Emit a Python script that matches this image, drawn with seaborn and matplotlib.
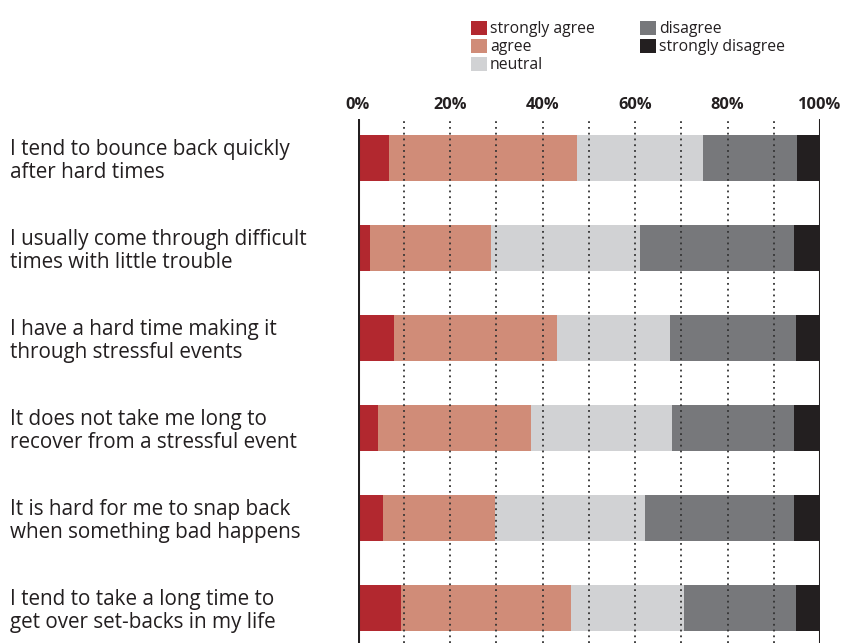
import matplotlib
matplotlib.use("Agg")
import matplotlib.pyplot as plt
from matplotlib.patches import Patch
import seaborn as sns
import pandas as pd
import numpy as np

questions = [
    "I tend to bounce back quickly\nafter hard times",
    "I usually come through difficult\ntimes with little trouble",
    "I have a hard time making it\nthrough stressful events",
    "It does not take me long to\nrecover from a stressful event",
    "It is hard for me to snap back\nwhen something bad happens",
    "I tend to take a long time to\nget over set-backs in my life",
]
categories = ["strongly agree", "agree", "neutral", "disagree", "strongly disagree"]
strongly_agree = [6.8, 2.7, 7.9, 4.4, 5.5, 9.4]
agree = [40.7, 26.2, 35.3, 33.2, 24.3, 36.8]
neutral = [27.2, 32.2, 24.4, 30.5, 32.4, 24.3]
disagree = [20.4, 33.2, 27.3, 26.2, 32.1, 24.4]
strongly_disagree = [4.9, 5.7, 5.1, 5.7, 5.7, 5.1]
colors = ["#b2282f", "#d08c78", "#d1d2d4", "#77787b", "#231f20"]
tick_values = [0, 20, 40, 60, 80, 100]
tick_labels = ["0%", "20%", "40%", "60%", "80%", "100%"]

sns.set_theme(style="white")
plt.rcParams["font.family"] = ["Open Sans", "DejaVu Sans"]
text_color = "#231f20"

df = pd.DataFrame({
    "question": questions,
    "strongly agree": strongly_agree,
    "agree": agree,
    "neutral": neutral,
    "disagree": disagree,
    "strongly disagree": strongly_disagree,
})
cum = df[categories].cumsum(axis=1)

fig = plt.figure(figsize=(8.41, 6.43), dpi=100)
ax = fig.add_axes([357.5 / 841, 0.0, (820 - 357.5) / 841, 1 - 119 / 643])

# draw cumulative bars from the largest to the smallest so segments stack
for cat, col in reversed(list(zip(categories, colors))):
    sns.barplot(x=cum[cat], y=df["question"], color=col, orient="h",
                width=0.51, ax=ax, saturation=1, linewidth=0, zorder=2)

ax.set_xlim(0, 100)
ax.set_ylim(5.389, -0.433)
for v in range(10, 100, 10):
    ax.axvline(v, color="#333333", lw=1.3, ls=(0, (1.0, 2.2)), zorder=3)
for v in (0, 100):
    ax.axvline(v, color=text_color, lw=2.2, zorder=4)

for s in ax.spines.values():
    s.set_visible(False)

ax.xaxis.tick_top()
ax.set_xticks(tick_values)
ax.set_xticklabels(tick_labels, fontsize=11.8, fontweight="bold", color=text_color)
ax.tick_params(axis="x", length=0, pad=4)
ax.set_xlabel("")
ax.set_ylabel("")

ax.set_yticks(range(len(questions)))
ax.set_yticklabels(questions, fontsize=14.9, color=text_color, ha="left",
                   linespacing=1.1)
ax.tick_params(axis="y", length=0, pad=(357.5 - 10) * 0.72)

handles = [Patch(facecolor=c, edgecolor="none", label=l) for c, l in zip(colors, categories)]
fig.legend(handles=handles, loc="upper left",
           bbox_to_anchor=(471 / 841, 1 - 20.5 / 643), ncol=2, frameon=False,
           fontsize=11.3, handlelength=1.0, handleheight=1.0, handletextpad=0.2,
           labelspacing=0.12, columnspacing=2.9, borderpad=0, borderaxespad=0,
           labelcolor=text_color)

fig.savefig("out.png", dpi=100)
